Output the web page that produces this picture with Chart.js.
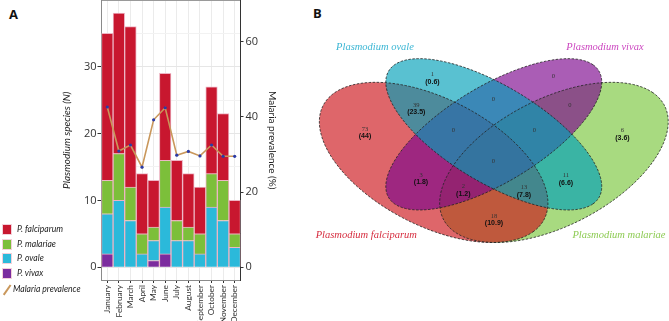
<!DOCTYPE html>
<html>
<head>
<meta charset="utf-8">
<script src="https://cdn.jsdelivr.net/npm/chart.js@4.4.1/dist/chart.umd.min.js"></script>
<style>
  body { margin: 0; background: #fff; width: 669px; height: 321px; overflow: hidden; position: relative; }
  canvas { position: absolute; top: 0; }
  #chartA { left: 0; }
  #chartB { left: 300px; }
  .panel { position: absolute; font: bold 13px 'Open Sans', sans-serif; color: #111; }
  #legend { position: absolute; left: 0; top: 224px; font: italic 8.6px Lato, sans-serif; color: #222; }
  .legend-item { position: relative; height: 14.5px; }
  .legend-box { position: absolute; left: 2px; top: 0; width: 10px; height: 11px; box-sizing: border-box; border: 1px solid #f3d0da; }
  .legend-text { position: absolute; left: 17px; top: 0; line-height: 11px; white-space: nowrap; }
  .legend-line { position: absolute; left: 1px; top: 5px; width: 12px; height: 1.6px; transform: rotate(-55deg); }
</style>
</head>
<body>
<div class="panel" style="left:9px;top:5px">A</div>
<div class="panel" style="left:313px;top:4px">B</div>
<canvas id="chartA" width="285" height="321"></canvas>
<canvas id="chartB" width="369" height="321"></canvas>
<div id="legend"></div>
<script>
// ── Data: panel A ───────────────────────────────────────────────────────────
const months = ['January', 'February', 'March', 'April', 'May', 'June',
  'July', 'August', 'September', 'October', 'November', 'December'];
const falciparum = [22, 21, 24, 9, 7, 13, 9, 8, 7, 13, 10, 5];
const malariae   = [5, 7, 5, 3, 2, 7, 3, 2, 3, 5, 6, 2];
const ovale      = [6, 10, 7, 2, 3, 7, 4, 4, 2, 9, 7, 3];
const vivax      = [2, 0, 0, 0, 1, 2, 0, 0, 0, 0, 0, 0];
const prevalence = [42.6, 30.9, 32.5, 26.6, 39.2, 42.4, 29.8, 30.8, 29.6, 32.5, 29.5, 29.5];
const leftTicks  = [0, 10, 20, 30];
const rightTicks = [0, 20, 40, 60];

// ── Data: panel B (Venn) ────────────────────────────────────────────────────
const setNames = ['Plasmodium falciparum', 'Plasmodium ovale', 'Plasmodium vivax', 'Plasmodium malariae'];
// regions: F, O, V, M, FO, OV, VM, FOV, OVM, FOVM, FV, FVM, FOM, OM, FM
const regionCounts   = [73, 1, 0, 6, 39, 0, 0, 0, 0, 0, 3, 2, 13, 11, 18];
const regionPercents = ['44', '0.6', '', '3.6', '23.5', '', '', '', '', '', '1.8', '1.2', '7.8', '6.6', '10.9'];

// ── Styles ──────────────────────────────────────────────────────────────────
const colors = {
  falciparum: '#C8172F',
  malariae:   '#7CBF3A',
  ovale:      '#2BB9DA',
  vivax:      '#7B2C9E',
  line:       '#C9975B',
  point:      '#2B3BA6',
  grid:       '#EBEBEB',
  text:       '#333'
};

// ── Panel A ─────────────────────────────────────────────────────────────────
const yMin = -1.9, yMax = 39.9;
const barStyle = { borderColor: '#EDB5C4', borderWidth: 1, categoryPercentage: 1, barPercentage: 1, order: 1, yAxisID: 'y' };
const noPadV = s => { s.paddingTop = 0; s.paddingBottom = 0; };

new Chart(document.getElementById('chartA'), {
  type: 'bar',
  data: {
    labels: months,
    datasets: [
      { ...barStyle, label: 'P. vivax',      data: vivax,      backgroundColor: colors.vivax },
      { ...barStyle, label: 'P. ovale',      data: ovale,      backgroundColor: colors.ovale },
      { ...barStyle, label: 'P. malariae',   data: malariae,   backgroundColor: colors.malariae },
      { ...barStyle, label: 'P. falciparum', data: falciparum, backgroundColor: colors.falciparum },
      {
        type: 'line', label: 'Malaria prevalence', data: prevalence, yAxisID: 'y1', order: 0,
        borderColor: colors.line, borderWidth: 1.6, tension: 0,
        pointRadius: 1.6, pointBackgroundColor: colors.point, pointBorderWidth: 0
      }
    ]
  },
  options: {
    responsive: false,
    animation: false,
    layout: { autoPadding: false, padding: { left: 55, right: 3, top: 0.5, bottom: 0 } },
    plugins: { legend: { display: false }, tooltip: { enabled: false } },
    scales: {
      x: {
        stacked: true,
        grid: { offset: false, color: colors.grid, tickLength: 3, tickColor: colors.text },
        border: { color: '#8a8a8a' },
        ticks: { autoSkip: false, minRotation: 90, maxRotation: 90, padding: 2, color: colors.text,
                 font: { family: 'Lato', size: 8.3 } },
        afterFit: s => { s.height = 41; s.paddingLeft = 0; s.paddingRight = 0; }
      },
      y: {
        stacked: true,
        min: yMin, max: yMax,
        afterBuildTicks: s => {
          const t = [];
          for (let v = 0; v <= 35; v += 5) t.push({ value: v });
          t.push({ value: yMax });
          s.ticks = t;
        },
        ticks: {
          callback: v => leftTicks.includes(v) ? v : '',
          color: colors.text, padding: 1, font: { family: 'Open Sans', size: 11 }
        },
        grid: {
          color: ctx => {
            const v = ctx.tick ? ctx.tick.value : 0;
            if (v === yMax) return '#9a9a9a';
            return v % 10 === 0 ? '#E6E6E6' : '#F2F2F2';
          },
          tickLength: 4,
          tickColor: ctx => (ctx.tick && leftTicks.includes(ctx.tick.value)) ? colors.text : 'rgba(0,0,0,0)'
        },
        border: { color: '#8a8a8a' },
        title: { display: true, text: 'Plasmodium species (N)', color: '#222', padding: { top: 6, bottom: 0 },
                 font: { family: 'Lato', size: 10, style: 'italic' } },
        afterFit: s => { s.width = 46.5; noPadV(s); }
      },
      y1: {
        position: 'right',
        min: -3.37, max: 70.9,
        afterBuildTicks: s => { s.ticks = rightTicks.map(v => ({ value: v })); },
        ticks: { color: colors.text, padding: 2, font: { family: 'Open Sans', size: 11 } },
        grid: { drawOnChartArea: false, tickLength: 3, tickColor: colors.text },
        border: { color: '#333' },
        title: { display: true, text: 'Malaria prevalence (%)', color: '#222', padding: { top: 4, bottom: 0 },
                 font: { family: 'Lato', size: 10 } },
        afterFit: s => { s.width = 41.5; noPadV(s); }
      }
    }
  }
});

// HTML legend
const legendEntries = [
  { label: 'P. falciparum', color: colors.falciparum },
  { label: 'P. malariae',   color: colors.malariae },
  { label: 'P. ovale',      color: colors.ovale },
  { label: 'P. vivax',      color: colors.vivax }
];
document.getElementById('legend').innerHTML = legendEntries.map(e =>
  `<div class="legend-item"><div class="legend-box" style="background:${e.color}"></div>
   <div class="legend-text">${e.label}</div></div>`
).join('') +
  `<div class="legend-item" style="margin-top:2px"><div class="legend-line" style="background:${colors.line}"></div>
   <div class="legend-text" style="left:13px">Malaria prevalence</div></div>`;

// ── Panel B: Venn diagram ───────────────────────────────────────────────────
// ellipses in unit space: cx, cy, a, b, rotation (deg)
const ellipses = [
  { cx: 0.35, cy: 0.47, a: 0.35, b: 0.20, rot: -45, fill: 'rgba(204,20,26,0.65)' },   // falciparum
  { cx: 0.50, cy: 0.57, a: 0.35, b: 0.15, rot: -45, fill: 'rgba(0,160,185,0.65)' },   // ovale
  { cx: 0.50, cy: 0.57, a: 0.35, b: 0.15, rot: 45,  fill: 'rgba(124,6,141,0.65)' },   // vivax
  { cx: 0.65, cy: 0.47, a: 0.35, b: 0.20, rot: 45,  fill: 'rgba(121,198,60,0.65)' }   // malariae
];
const fillOrder = [3, 0, 2, 1];
const regionAnchors = [
  [0.1788, 0.5889], [0.3471, 0.7829], [0.6484, 0.7750], [0.8209, 0.5836],
  [0.3067, 0.6743], [0.4988, 0.6957], [0.6900, 0.6743], [0.3990, 0.5843],
  [0.6010, 0.5843], [0.4988, 0.4725], [0.3185, 0.4252], [0.4239, 0.3836],
  [0.5753, 0.3814], [0.6800, 0.4227], [0.5005, 0.2793]
];
const setLabelAnchors = [[0.182, 0.2117], [0.2037, 0.8807], [0.7773, 0.8807], [0.8122, 0.2117]];
const setLabelColors = ['#D62D3F', '#3BB6D4', '#CC47C0', '#8DCB53'];

const vennPlugin = {
  id: 'venn',
  beforeDatasetsDraw(chart) {
    const { ctx, scales: { x, y } } = chart;
    const tracePath = e => {
      const r = e.rot * Math.PI / 180;
      ctx.beginPath();
      for (let i = 0; i <= 180; i++) {
        const t = i / 180 * Math.PI * 2;
        const ux = e.cx + e.a * Math.cos(t) * Math.cos(r) - e.b * Math.sin(t) * Math.sin(r);
        const uy = e.cy + e.a * Math.cos(t) * Math.sin(r) + e.b * Math.sin(t) * Math.cos(r);
        const px = x.getPixelForValue(ux), py = y.getPixelForValue(uy);
        if (i === 0) ctx.moveTo(px, py); else ctx.lineTo(px, py);
      }
      ctx.closePath();
    };
    ctx.save();
    fillOrder.forEach(i => { tracePath(ellipses[i]); ctx.fillStyle = ellipses[i].fill; ctx.fill(); });
    ctx.setLineDash([2.5, 1.5]);
    ctx.lineWidth = 0.8;
    ctx.strokeStyle = '#222';
    ellipses.forEach(e => { tracePath(e); ctx.stroke(); });
    ctx.restore();
  },
  afterDatasetsDraw(chart) {
    const { ctx, scales: { x, y } } = chart;
    ctx.save();
    ctx.textAlign = 'center';
    ctx.textBaseline = 'middle';
    regionCounts.forEach((n, i) => {
      const px = x.getPixelForValue(regionAnchors[i][0]);
      const py = y.getPixelForValue(regionAnchors[i][1]);
      ctx.fillStyle = '#333';
      ctx.font = "6.5px 'Liberation Serif'";
      ctx.fillText(String(n), px, py);
      if (regionPercents[i]) {
        ctx.fillStyle = '#111';
        ctx.font = "bold 7px 'Liberation Sans'";
        ctx.fillText('(' + regionPercents[i] + ')', px, py + 7.5);
      }
    });
    ctx.font = "italic 10.5px 'Liberation Serif'";
    setNames.forEach((s, i) => {
      ctx.fillStyle = setLabelColors[i];
      ctx.fillText(s, x.getPixelForValue(setLabelAnchors[i][0]), y.getPixelForValue(setLabelAnchors[i][1]));
    });
    ctx.restore();
  }
};

new Chart(document.getElementById('chartB'), {
  type: 'scatter',
  data: { datasets: [{ data: [] }] },
  options: {
    responsive: false,
    animation: false,
    layout: { padding: 0 },
    plugins: { legend: { display: false }, tooltip: { enabled: false } },
    scales: {
      x: { type: 'linear', display: false, min: 0.0167, max: 0.937 },
      y: { type: 'linear', display: false, min: -0.0944, max: 1.048 }
    }
  },
  plugins: [vennPlugin]
});
</script>
</body>
</html>
